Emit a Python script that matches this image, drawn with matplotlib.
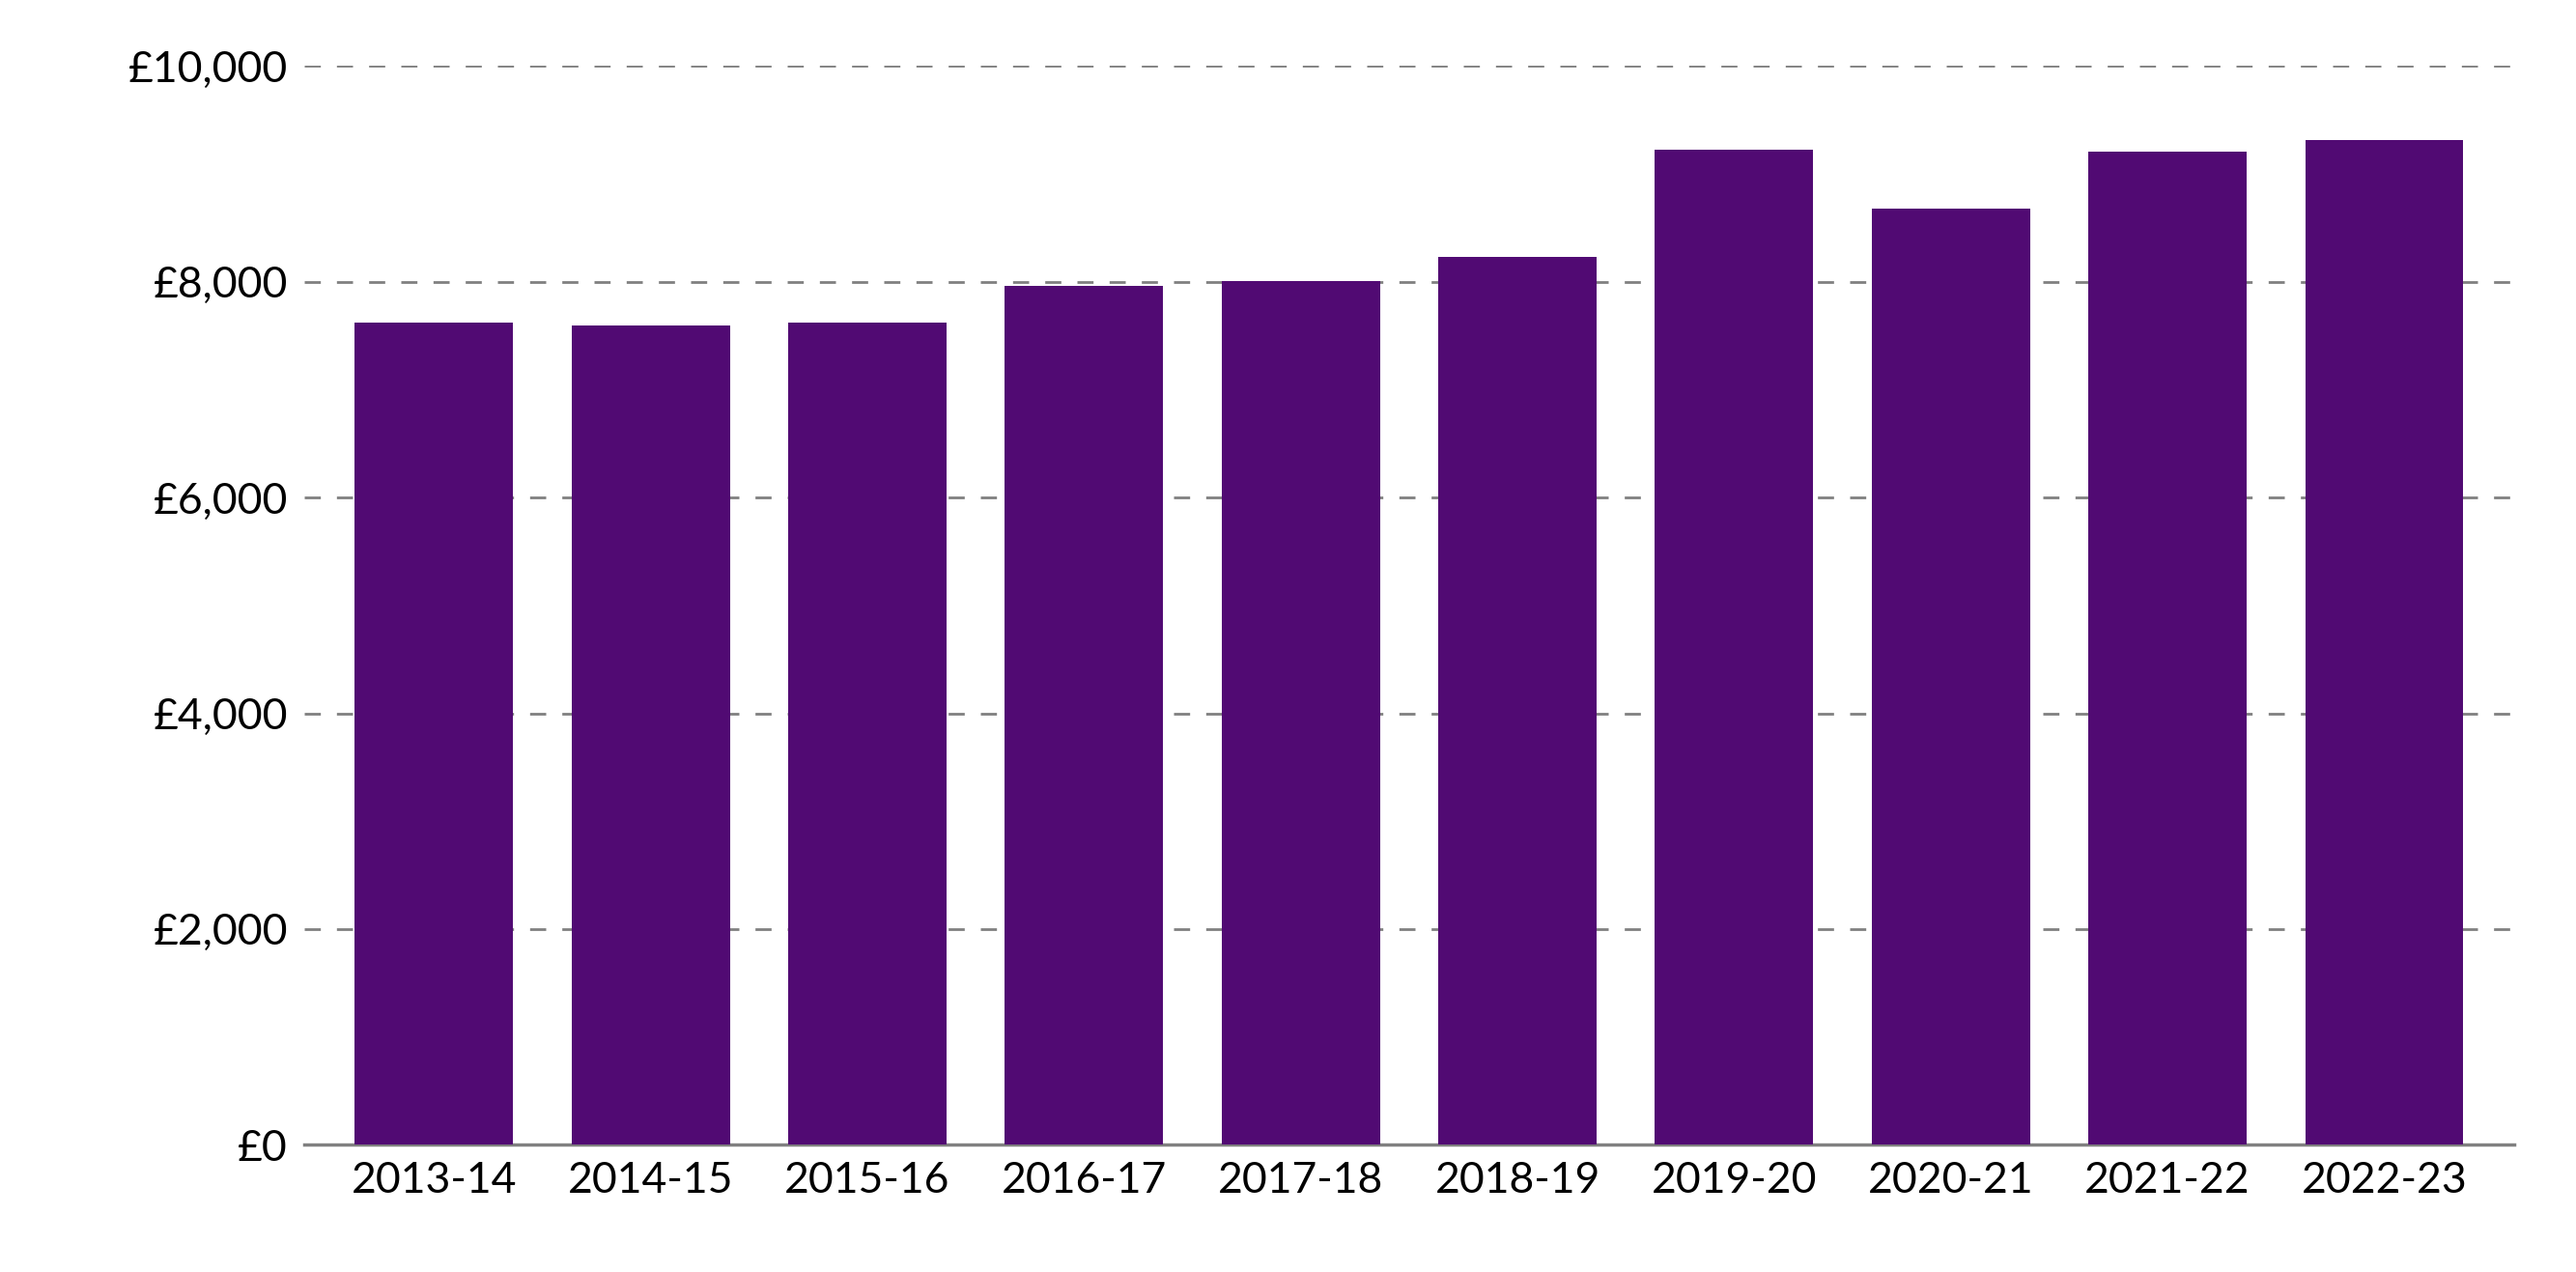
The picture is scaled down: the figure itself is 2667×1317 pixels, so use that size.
import matplotlib
matplotlib.use("Agg")
import matplotlib.pyplot as plt
from matplotlib.ticker import FuncFormatter

years = ["2013-14","2014-15","2015-16","2016-17","2017-18","2018-19","2019-20","2020-21","2021-22","2022-23"]
values = [7620, 7595, 7625, 7960, 8006, 8234, 9224, 8676, 9209, 9315]

plt.rcParams["font.family"] = "Lato"
fig = plt.figure(figsize=(26.67, 13.17), dpi=100)
ax = fig.add_axes([0.118, 0.1, 0.858, 0.848])
ax.bar(range(len(years)), values, width=0.73, color="#510a73", zorder=3)
ax.set_ylim(0, 10000)
ax.set_xlim(-0.6, len(years) - 0.4)
ax.set_yticks(range(0, 10001, 2000))
ax.yaxis.set_major_formatter(FuncFormatter(lambda v, p: f"£{int(v):,}"))
ax.set_xticks(range(len(years)))
ax.set_xticklabels(years)
ax.grid(axis="y", color="#808080", linestyle=(0, (6, 6)), linewidth=2, zorder=0)
for s in ["top", "right", "left"]:
    ax.spines[s].set_visible(False)
ax.spines["bottom"].set_color("#808080")
ax.spines["bottom"].set_linewidth(2.5)
ax.tick_params(axis="both", length=0, labelsize=32, pad=12)
fig.savefig("out.png", dpi=100)
